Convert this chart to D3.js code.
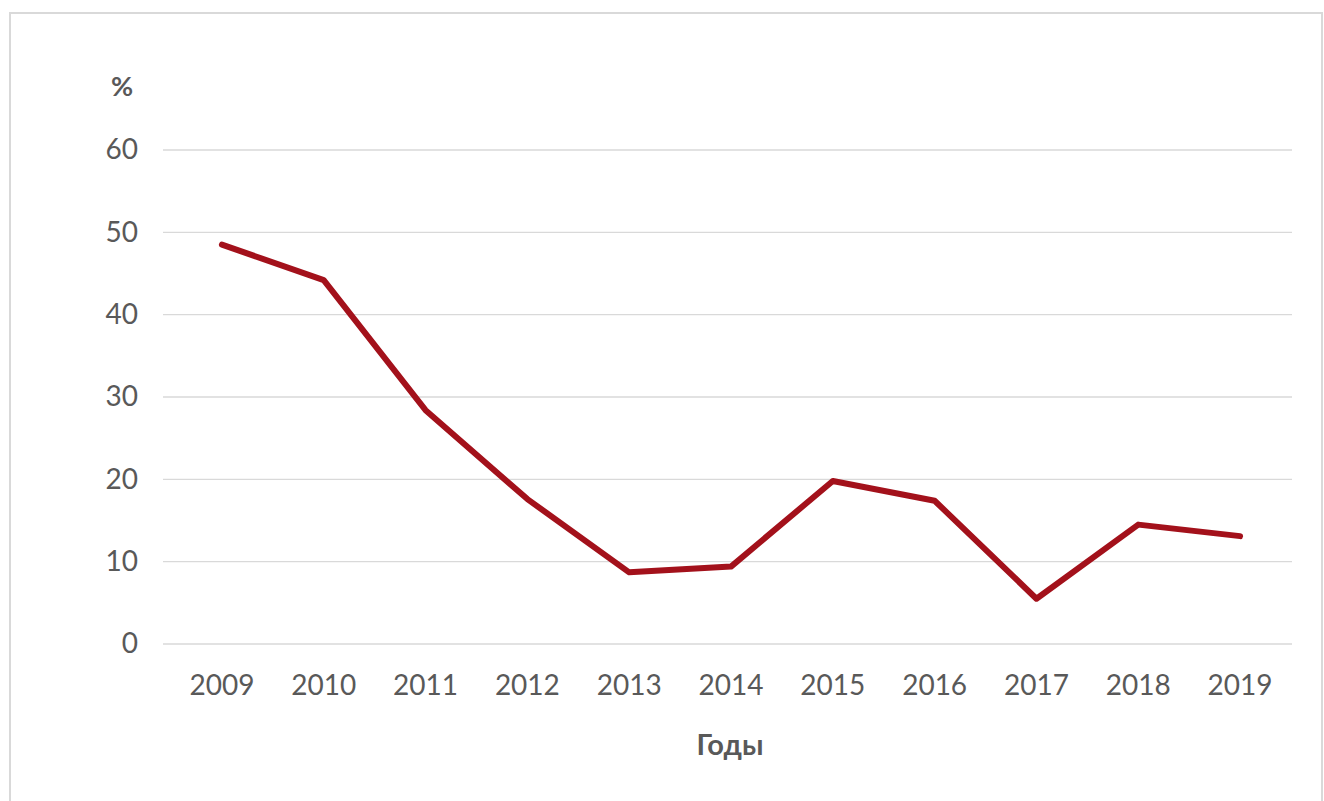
<!DOCTYPE html>
<html>
<head>
<meta charset="utf-8">
<script src="https://cdn.jsdelivr.net/npm/d3@7"></script>
<style>
  html, body { margin: 0; padding: 0; background: #ffffff; }
  svg { display: block; }
  text { font-family: Lato, "Open Sans", sans-serif; }
</style>
</head>
<body>
<svg id="chart" width="1324" height="801"></svg>
<script>
// Годы наблюдения
const years = ["2009", "2010", "2011", "2012", "2013", "2014", "2015", "2016", "2017", "2018", "2019"];
// Доля, %
const values = [48.5, 44.2, 28.4, 17.6, 8.7, 9.4, 19.8, 17.4, 5.5, 14.5, 13.1];
// Деления вертикальной оси
const yTicks = [0, 10, 20, 30, 40, 50, 60];
const yTitle = "%";
const xTitle = "Годы";

const svg = d3.select("#chart");
const W = 1324, H = 801;

svg.append("rect").attr("x", 0).attr("y", 0).attr("width", W).attr("height", H).attr("fill", "#ffffff");

// chart frame
svg.append("rect")
  .attr("x", 10).attr("y", 13)
  .attr("width", 1312).attr("height", 800)
  .attr("fill", "none")
  .attr("stroke", "#d9d9d9")
  .attr("stroke-width", 2);

const plot = { left: 171, right: 1291, top: 150, bottom: 644 };
const gridLeft = 163, gridRight = 1292;

const x = d3.scaleBand().domain(years).range([plot.left, plot.right]);
const y = d3.scaleLinear().domain([0, 60]).range([plot.bottom, plot.top]);
const cx = d => x(d) + x.bandwidth() / 2;

// horizontal gridlines
svg.append("g").selectAll("line")
  .data(yTicks)
  .join("line")
  .attr("x1", gridLeft).attr("x2", gridRight)
  .attr("y1", d => y(d)).attr("y2", d => y(d))
  .attr("stroke", "#d9d9d9")
  .attr("stroke-width", 1.3);

// y axis labels
const yAxis = d3.axisLeft(y).tickValues(yTicks).tickSize(0).tickPadding(0).tickFormat(d3.format("d"));
const gy = svg.append("g").attr("transform", "translate(138,0)").call(yAxis);
gy.select(".domain").remove();
gy.selectAll("text")
  .attr("fill", "#595959")
  .style("font-size", "28px")
  .style("font-family", "Lato, 'Open Sans', sans-serif");

// x axis labels
const xAxis = d3.axisBottom(x).tickSize(0).tickPadding(0);
const gx = svg.append("g").attr("transform", "translate(0,675)").call(xAxis);
gx.select(".domain").remove();
gx.selectAll("text")
  .attr("fill", "#595959")
  .attr("dy", "0.71em")
  .style("font-size", "28px")
  .style("font-family", "Lato, 'Open Sans', sans-serif");

// axis titles
svg.append("text")
  .attr("x", 122).attr("y", 96)
  .attr("text-anchor", "middle")
  .attr("fill", "#595959")
  .style("font-size", "27px")
  .style("font-weight", "bold")
  .text(yTitle);

svg.append("text")
  .attr("x", 730).attr("y", 755)
  .attr("text-anchor", "middle")
  .attr("fill", "#595959")
  .style("font-size", "29px")
  .style("font-weight", "bold")
  .text(xTitle);

// data line
const line = d3.line()
  .x((d, i) => cx(years[i]))
  .y(d => y(d));

svg.append("path")
  .datum(values)
  .attr("d", line)
  .attr("fill", "none")
  .attr("stroke", "#a3111b")
  .attr("stroke-width", 6)
  .attr("stroke-linejoin", "round")
  .attr("stroke-linecap", "round");
</script>
</body>
</html>
